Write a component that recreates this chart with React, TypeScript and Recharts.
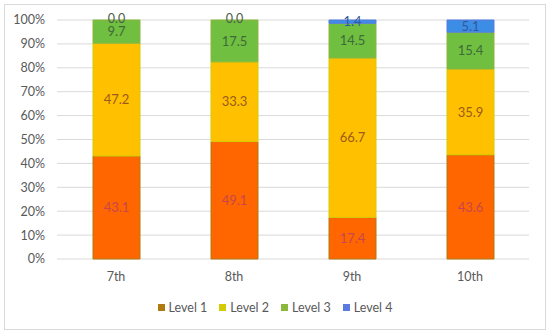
import { Bar, BarChart, CartesianGrid, LabelList, Legend, XAxis, YAxis } from "recharts";

const grades = ["7th", "8th", "9th", "10th"];
const level1 = [43.1, 49.1, 17.4, 43.6];
const level2 = [47.2, 33.3, 66.7, 35.9];
const level3 = [9.7, 17.5, 14.5, 15.4];
const level4 = [0.0, 0.0, 1.4, 5.1];
const yTicks = [0, 0.1, 0.2, 0.3, 0.4, 0.5, 0.6, 0.7, 0.8, 0.9, 1];

const data = grades.map((g, i) => ({
  grade: g,
  l1: level1[i],
  l2: level2[i],
  l3: level3[i],
  l4: level4[i],
}));

const series = [
  { key: "l1", name: "Level 1", fill: "#FF6600", legend: "#B07A10", label: "#C8464B" },
  { key: "l2", name: "Level 2", fill: "#FFC000", legend: "#D4CC00", label: "#9C5A1C" },
  { key: "l3", name: "Level 3", fill: "#70BF41", legend: "#8DB63C", label: "#3E6B38" },
  { key: "l4", name: "Level 4", fill: "#3C8DE6", legend: "#5B7BE0", label: "#2F5A9A" },
];

const font = "Lato, 'Open Sans', sans-serif";

function LegendContent() {
  return (
    <div
      style={{
        display: "flex",
        justifyContent: "center",
        alignItems: "center",
        height: 16,
        fontFamily: font,
        fontSize: 12.5,
        color: "#595959",
      }}
    >
      {series.map((s) => (
        <div key={s.key} style={{ display: "flex", alignItems: "center", margin: "0 6px" }}>
          <span style={{ width: 7, height: 7, background: s.legend, marginRight: 4, display: "inline-block" }} />
          <span>{s.name}</span>
        </div>
      ))}
    </div>
  );
}

// level 4 labels: zero-height segments get their label drawn at the top of the stack
function TopLabel(props: any) {
  const { x, y, width, index } = props;
  const v = level4[index];
  if (v !== 0) return null;
  return (
    <text
      x={x + width / 2}
      y={y}
      textAnchor="middle"
      dominantBaseline="middle"
      fill="#4A5E48"
      fontSize={12.5}
      fontFamily={font}
    >
      {v.toFixed(1)}
    </text>
  );
}

export default function App() {
  return (
    <div style={{ position: "relative", width: 550, height: 333, background: "#fff" }}>
      <style>{`body{margin:0}`}</style>
      <div
        style={{
          position: "absolute",
          left: 4,
          top: 4,
          width: 540,
          height: 324,
          border: "1px solid #d9d9d9",
        }}
      />
      <div style={{ position: "absolute", left: 0, top: 0 }}>
        <BarChart
          width={550}
          height={333}
          data={data}
          stackOffset="expand"
          barSize={47}
          margin={{ top: 20, right: 21, bottom: 0, left: 0 }}
        >
          <CartesianGrid vertical={false} stroke="#d9d9d9" />
          <XAxis
            dataKey="grade"
            axisLine={false}
            tickLine={false}
            height={40}
            tickMargin={7}
            tick={{ fill: "#595959", fontSize: 12.5, fontFamily: font }}
          />
          <YAxis
            width={57}
            domain={[0, 1]}
            ticks={yTicks}
            axisLine={false}
            tickLine={false}
            tickMargin={6}
            tickFormatter={(v: number) => `${Math.round(v * 100)}%`}
            tick={{ fill: "#595959", fontSize: 12.5, fontFamily: font }}
          />
          <Legend
            verticalAlign="bottom"
            height={34}
            content={<LegendContent />}
            wrapperStyle={{ left: 0, width: 550 }}
          />
          {series.map((s) => (
            <Bar
              key={s.key}
              dataKey={s.key}
              name={s.name}
              stackId="a"
              fill={s.fill}
              stroke={s.legend}
              strokeWidth={1}
              isAnimationActive={false}
            >
              <LabelList
                dataKey={s.key}
                position="center"
                formatter={(v: number) => (v === 0 ? "" : v.toFixed(1))}
                style={{ fill: s.label, fontSize: 13, fontFamily: font }}
              />
              {s.key === "l3" && <LabelList dataKey="l4" content={TopLabel} />}
            </Bar>
          ))}
        </BarChart>
      </div>
    </div>
  );
}
